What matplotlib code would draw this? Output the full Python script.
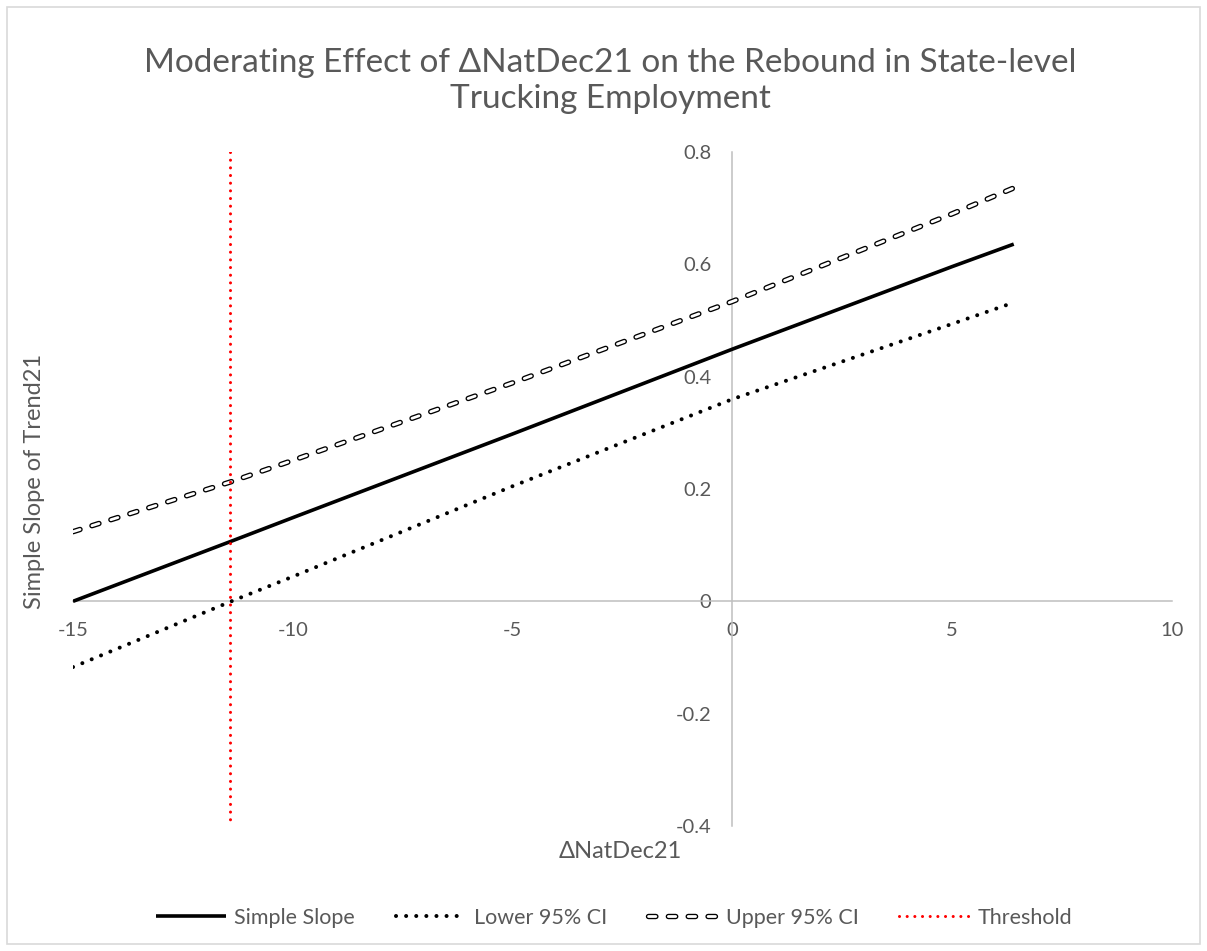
import matplotlib
matplotlib.use("Agg")
import matplotlib.pyplot as plt
import matplotlib.patheffects as pe
from matplotlib.patches import Rectangle

plt.rcParams["font.family"] = ["Lato", "DejaVu Sans"]
plt.rcParams["axes.unicode_minus"] = False

# values
nat_dec = [-15, -11.4, -10, -5, 0, 5, 6.4]
simple_slope = [0.0, 0.107, 0.149, 0.298, 0.449, 0.596, 0.636]
lower_ci = [-0.117, 0.0, 0.044, 0.205, 0.360, 0.494, 0.532]
upper_ci = [0.124, 0.213, 0.251, 0.389, 0.534, 0.690, 0.736]
threshold_x = -11.42
threshold_y = [0.8, -0.4]

x_ticks = [-15, -10, -5, 0, 5, 10]
y_ticks = [-0.4, -0.2, 0, 0.2, 0.4, 0.6, 0.8]
y_tick_labels = ["-0.4", "-0.2", "0", "0.2", "0.4", "0.6", "0.8"]

grey = "#595959"
axis_grey = "#bfbfbf"

fig = plt.figure(figsize=(12.07, 9.51), dpi=100)
ax = fig.add_axes([73 / 1207, 1 - 826 / 951, 1099 / 1207, 674 / 951])

ax.plot(nat_dec, simple_slope, color="black", lw=2.6, solid_capstyle="butt",
        label="Simple Slope", zorder=3)
ax.plot(nat_dec, lower_ci, color="black", lw=2.9, linestyle=(0, (0.01, 2.5)),
        dash_capstyle="round", label="Lower 95% CI", zorder=3)
ax.plot(nat_dec, upper_ci, color="white", lw=2.0, linestyle=(0, (2.65, 4.5)),
        dash_capstyle="round", label="Upper 95% CI", zorder=3,
        path_effects=[pe.Stroke(linewidth=3.9, foreground="black"), pe.Normal()])
ax.plot([threshold_x, threshold_x], threshold_y, color="#ff0000", lw=2.2,
        linestyle=(0, (0.01, 2.5)), dash_capstyle="round", label="Threshold",
        zorder=4)

ax.set_xlim(-15, 10)
ax.set_ylim(-0.4, 0.8)
ax.set_xticks(x_ticks)
ax.set_yticks(y_ticks)
ax.set_yticklabels(y_tick_labels)

for side in ["top", "right"]:
    ax.spines[side].set_visible(False)
ax.spines["left"].set_position(("data", 0))
ax.spines["bottom"].set_position(("data", 0))
for side in ["left", "bottom"]:
    ax.spines[side].set_color(axis_grey)
    ax.spines[side].set_linewidth(1.1)
ax.tick_params(axis="both", length=0, labelsize=14.5, labelcolor=grey)
ax.tick_params(axis="x", pad=15)
ax.tick_params(axis="y", pad=15)
ax.patch.set_alpha(0)

fig.text(610 / 1207, 1 - 81 / 951,
         "Moderating Effect of \u0394NatDec21 on the Rebound in State-level\nTrucking Employment",
         ha="center", va="center", fontsize=24, color=grey, linespacing=1.24)
fig.text(35 / 1207, 1 - 481 / 951, "Simple Slope of Trend21", rotation=90,
         ha="center", va="center", fontsize=17, color=grey)
fig.text(620 / 1207, 1 - 851 / 951, "\u0394NatDec21",
         ha="center", va="center", fontsize=17, color=grey)

leg = fig.legend(loc="center", bbox_to_anchor=(614 / 1207, 1 - 918 / 951),
                 ncol=4, frameon=False, fontsize=15.5, handlelength=3.25,
                 handletextpad=0.37, columnspacing=1.9)
for t in leg.get_texts():
    t.set_color(grey)

fig.patches.append(Rectangle((7 / 1207, 7 / 951), 1193 / 1207, 937 / 951,
                             transform=fig.transFigure, fill=False,
                             edgecolor="#d9d9d9", lw=1.2))

fig.savefig("out.png", dpi=100)
